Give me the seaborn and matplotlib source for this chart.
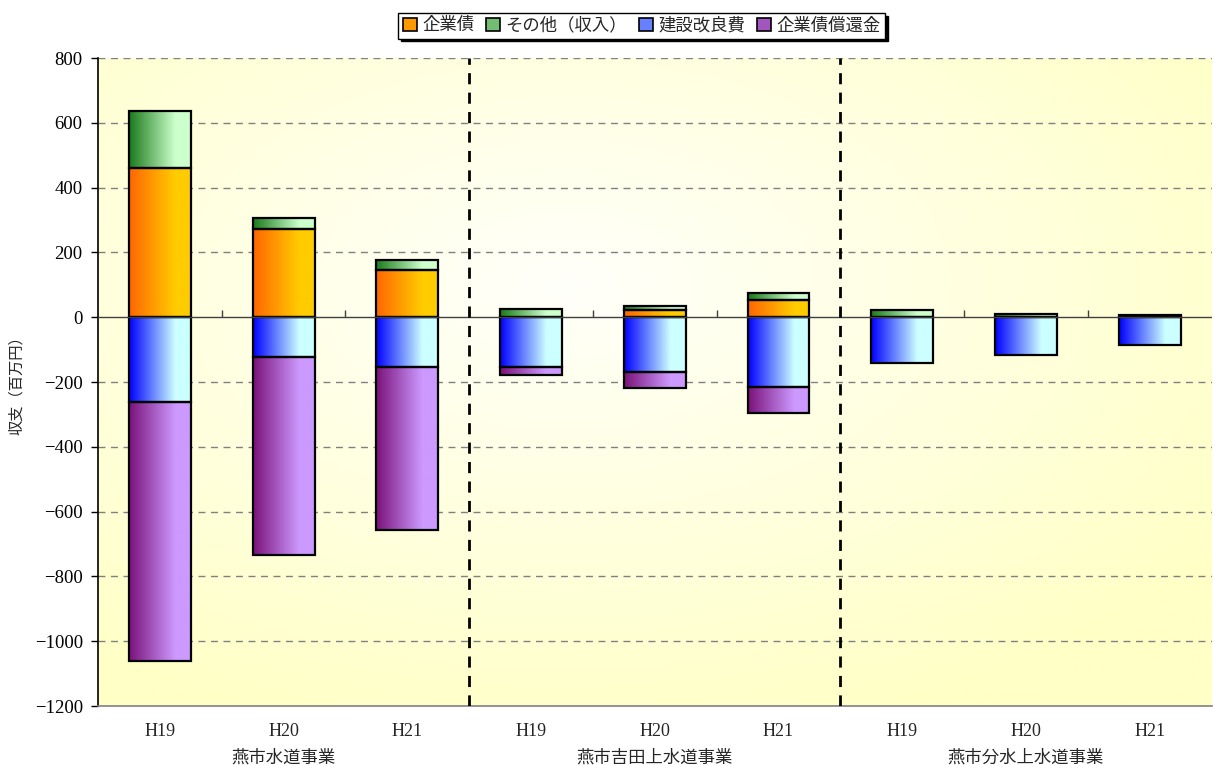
import numpy as np
import pandas as pd
import matplotlib
matplotlib.use('Agg')
import matplotlib.pyplot as plt
import seaborn as sns
from matplotlib.colors import LinearSegmentedColormap, to_rgb
from matplotlib.patches import Patch
import matplotlib.transforms as mtransforms

# data (百万円)
groups = ['燕市水道事業', '燕市吉田上水道事業', '燕市分水上水道事業']
years = ['H19', 'H20', 'H21']
kigyousai = [460, 272, 145, 0, 21, 54, 0, 0, 0]          # 企業債
sonota = [176, 34, 31, 25, 13, 22, 23, 11, 7]              # その他（収入）
kensetsu = [-262, -123, -154, -153, -169, -215, -140, -116, -86]  # 建設改良費
shoukan = [-800, -612, -503, -25, -48, -82, 0, 0, 0]      # 企業債償還金

series_names = ['企業債', 'その他（収入）', '建設改良費', '企業債償還金']
grad_colors = [('#FF6600', '#FFCC00'), ('#1A7A1A', '#CCFFCC'),
               ('#0000FF', '#CCFFFF'), ('#7A127A', '#CC99FF')]

sns.set_theme(style='white')
plt.rcParams['font.family'] = ['Liberation Serif', 'Noto Sans CJK JP']
plt.rcParams['axes.unicode_minus'] = True

keys = [f'{g}-{y}' for g in groups for y in years]
df = pd.DataFrame({'key': keys, '企業債': kigyousai, 'その他（収入）': sonota,
                   '建設改良費': kensetsu, '企業債償還金': shoukan})

fig = plt.figure(figsize=(12.13, 7.65), dpi=100)
ax = fig.add_axes([0.0808, 0.0771, 0.918, 0.847])

# radial background gradient
yy, xx = np.mgrid[0:1:300j, 0:1:600j]
r = np.sqrt(((xx - 0.42) / 0.72) ** 2 + ((yy - 0.35) / 0.72) ** 2)
r = np.clip(r, 0, 1)
bg_cmap = LinearSegmentedColormap.from_list('bg', ['#FFFFFA', '#FFFFE0', '#FFFFC6'])
ax.imshow(r, cmap=bg_cmap, extent=[-0.5, len(keys) - 0.5, -1200, 800],
          aspect='auto', origin='upper', zorder=0)

# horizontal dashed grid
for v in range(-1000, 801, 200):
    if v != 0:
        ax.axhline(v, color='#808080', lw=1.0, ls=(0, (5, 4)), zorder=1)

stack_specs = [
    ('企業債', None),
    ('その他（収入）', df['企業債'].values),
    ('建設改良費', None),
    ('企業債償還金', df['建設改良費'].values),
]

for (name, bottom), (c0, c1) in zip(stack_specs, grad_colors):
    n_before = len(ax.patches)
    kw = {} if bottom is None else {'bottom': bottom}
    sns.barplot(data=df, x='key', y=name, order=keys, width=0.5, errorbar=None,
                color='white', edgecolor='black', linewidth=1.6, ax=ax,
                zorder=3, **kw)
    cmap = LinearSegmentedColormap.from_list(name, [(0, c0), (0.75, c1), (1, c1)])
    grad = np.linspace(0, 1, 256).reshape(1, -1)
    for p in ax.patches[n_before:]:
        p.set_facecolor('none')
        h = p.get_height()
        if h == 0:
            p.set_linewidth(0)
            continue
        x0, y0, w = p.get_x(), p.get_y(), p.get_width()
        im = ax.imshow(grad, cmap=cmap, extent=[x0, x0 + w, min(y0, y0 + h), max(y0, y0 + h)],
                       aspect='auto', zorder=2)
        im.set_clip_path(p)

ax.set_xlim(-0.5, len(keys) - 0.5)
ax.set_ylim(-1200, 800)
ax.set_yticks(range(-1200, 801, 200))
ax.tick_params(axis='y', labelsize=13.5, length=5, width=1, direction='out', left=True,
               colors='black', pad=6)
ax.set_ylabel('収支（百万円）', fontsize=11, labelpad=8)
ax.set_xlabel('')

# zero line with category ticks
ax.axhline(0, color='#404040', lw=1.0, zorder=4)
bounds = np.arange(len(keys) - 1) + 0.5
ax.plot(bounds, np.zeros_like(bounds), ls='none', marker=matplotlib.markers.TICKUP,
        ms=5, color='#404040', zorder=4)

# group separators
for b in np.cumsum([len(years)] * (len(groups) - 1)) - 0.5:
    ax.axvline(b, color='black', lw=2, ls=(0, (4, 3)), zorder=5)

ax.set_xticks(range(len(keys)))
ax.set_xticklabels(years * len(groups), fontsize=13)
ax.tick_params(axis='x', length=0, pad=12)

trans = mtransforms.blended_transform_factory(ax.transData, ax.transAxes)
for i, g in enumerate(groups):
    ax.text(i * len(years) + (len(years) - 1) / 2, -0.068, g, transform=trans,
            ha='center', va='top', fontsize=12.5)

for s in ['top', 'right']:
    ax.spines[s].set_visible(False)
ax.spines['left'].set_color('black')
ax.spines['left'].set_linewidth(1.2)
ax.spines['bottom'].set_color('#808080')
ax.spines['bottom'].set_linewidth(1.2)

handles = [Patch(facecolor=c1, edgecolor='black', linewidth=1.2) for c0, c1 in
           [(a, (np.array(to_rgb(a)) * 0.5 + np.array(to_rgb(b)) * 0.5)) for a, b in grad_colors]]
leg = fig.legend(handles, series_names, loc='center', bbox_to_anchor=(0.529, 0.966), ncol=4,
                 frameon=True, fancybox=False, shadow={'color': 'black', 'alpha': 1.0},
                 fontsize=12.5, handlelength=0.8, handleheight=0.8, handletextpad=0.3,
                 columnspacing=0.7, borderpad=0.25)
leg.get_frame().set_edgecolor('black')
leg.get_frame().set_linewidth(1.0)

fig.savefig('out.png', dpi=100)
